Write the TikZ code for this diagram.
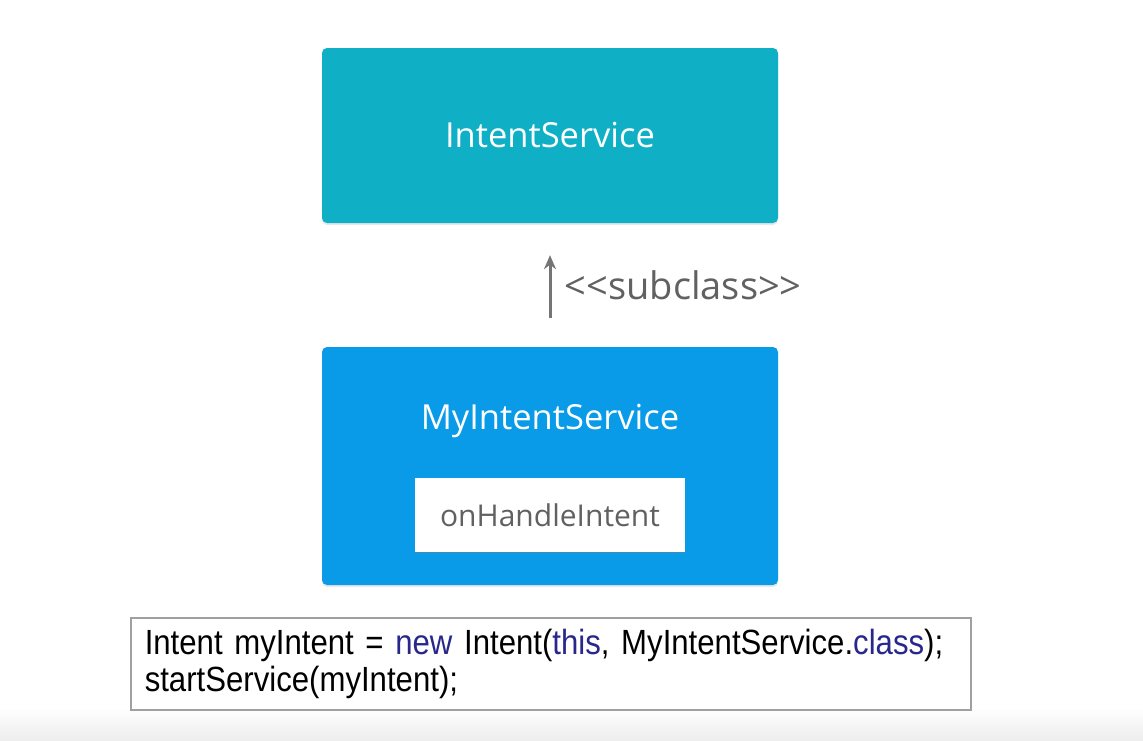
\documentclass[tikz,border=0pt]{standalone}
\usepackage{fontspec}
\setmainfont{Open Sans}
\newfontfamily\codefont[FakeStretch=0.89]{Liberation Sans}
\usetikzlibrary{arrows.meta, positioning, shadows}

\definecolor{svcteal}{HTML}{0FB0C6}
\definecolor{svcblue}{HTML}{0A9BE8}
\definecolor{labelgray}{HTML}{616161}
\definecolor{arrowgray}{HTML}{757575}
\definecolor{codeblue}{HTML}{28288C}
\definecolor{codeframe}{HTML}{A0A0A0}
\newcommand{\kw}[1]{\textcolor{codeblue}{#1}}

\begin{document}
\begin{tikzpicture}[
  x=1pt, y=-1pt,
  >=Stealth,
  classbox/.style={
    rectangle, rounded corners=5pt, minimum width=456pt,
    drop shadow={opacity=0.18, shadow xshift=0pt, shadow yshift=-2pt}
  },
  classtitle/.style={text=white, font=\fontsize{34.5}{40}\selectfont},
  methodbox/.style={
    rectangle, fill=white, minimum width=270pt, minimum height=74pt,
    text=labelgray, font=\fontsize{30}{36}\selectfont,
    drop shadow={opacity=0.25, shadow xshift=0pt, shadow yshift=-2pt}
  },
  subarrow/.style={line width=3pt, -{Stealth[length=14pt, width=12pt]}, color=arrowgray},
  stereo/.style={text=labelgray, font=\fontsize{38}{44}\selectfont},
  codebox/.style={
    rectangle, draw=codeframe, line width=1.5pt, fill=white,
    minimum width=840pt, minimum height=92pt, text width=812pt,
    align=left, font=\codefont\fontsize{35}{37}\selectfont
  }
]

% Page and bottom band
\useasboundingbox (0,0) rectangle (1143,740);
\fill[white] (0,0) rectangle (1143,740);
\shade[top color=white, bottom color=black!7] (0,708) rectangle (1143,740);

% Class boxes
\node[classbox, fill=svcteal, minimum height=175pt] (svc) at (550,135.5) {};
\node[classtitle] (svctitle) at (svc.center) {IntentService};
\node[classbox, fill=svcblue, minimum height=238pt] (mysvc) at (550,466) {};
\node[classtitle] (mysvctitle) at (550,421) {MyIntentService};
\node[methodbox] (handle) at (550,515) {onHandleIntent};

% Inheritance arrow
\draw[subarrow, shorten <=29pt, shorten >=32pt] (mysvc) -- (svc)
  node[stereo, midway, right=10pt] (sublabel) {<{}<subclass>{}>};

% Code snippet
\node[codebox, anchor=north west] (code) at (130,617)
  {Intent myIntent = \kw{new} Intent(\kw{this}, MyIntentService.\kw{class});\\
   startService(myIntent);};

\end{tikzpicture}
\end{document}
